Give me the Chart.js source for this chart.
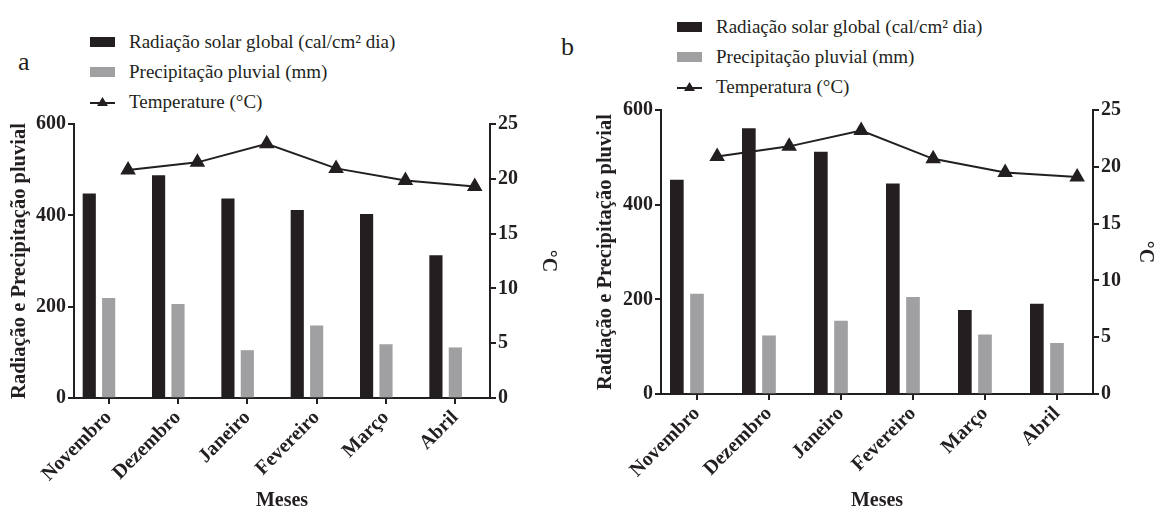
<!DOCTYPE html>
<html>
<head>
<meta charset="utf-8">
<script src="https://cdn.jsdelivr.net/npm/chart.js@4.4.1/dist/chart.umd.min.js"></script>
<style>
  body { margin: 0; background: #fff; width: 1157px; height: 513px; position: relative; overflow: hidden;
         font-family: "Liberation Serif", "Times New Roman", serif; }
  .panel { position: absolute; }
  .tag { position: absolute; font-size: 26px; line-height: 30px; color: #231f20; }
  .legend { position: absolute; }
  .legend .row { display: flex; align-items: center; height: 30px; font-size: 19px; color: #231f20; }
  .legend .sw { width: 25px; height: 10px; margin-right: 14px; }
  .legend svg { margin-right: 14px; }
</style>
</head>
<body>

<div class="tag" style="left:18px; top:47px;">a</div>
<div class="tag" style="left:561px; top:32px;">b</div>
<div class="legend" id="legendA" style="left:90px; top:27px;"></div>
<div class="legend" id="legendB" style="left:677px; top:12px;"></div>

<div class="panel" style="left:0px; top:100px;"><canvas id="chartA" width="575" height="413"></canvas></div>
<div class="panel" style="left:580px; top:90px;"><canvas id="chartB" width="577" height="423"></canvas></div>

<script>
const months = ['Novembro', 'Dezembro', 'Janeiro', 'Fevereiro', 'Março', 'Abril'];

// panel a
const radiationA = [447, 487, 436, 411, 402, 312];
const rainA = [218, 205, 104, 158, 117, 110];
const tempA = [20.8, 21.5, 23.2, 20.95, 19.85, 19.3];

// panel b
const radiationB = [452, 561, 511, 444, 177, 190];
const rainB = [211, 123, 154, 204, 125, 107];
const tempB = [20.9, 21.8, 23.2, 20.7, 19.5, 19.1];

const labelRad = 'Radiação solar global (cal/cm² dia)';
const labelRain = 'Precipitação pluvial (mm)';
const labelTempA = 'Temperature (°C)';
const labelTempB = 'Temperatura (°C)';

const black = '#231f20';
const grey = '#a0a0a3';
const FONT = '"Liberation Serif", "Times New Roman", serif';
const slot = 0.28;   // black bars sit left of the month centre, triangles right of it

function axisGrid() {
  return { drawOnChartArea: false, drawTicks: true, tickLength: 6, color: black, lineWidth: 2 };
}

function hiddenX() {
  return { type: 'linear', display: false, offset: false, min: -0.5, max: months.length - 0.5 };
}

function makeChart(id, rad, rain, temp, tempLabel, box) {
  const ctx = document.getElementById(id).getContext('2d');
  const bold = { family: FONT, size: 20, weight: 'bold' };

  return new Chart(ctx, {
    data: {
      labels: months,
      datasets: [
        {
          type: 'line', label: tempLabel, data: temp.map((t, i) => ({ x: i + slot, y: t })),
          xAxisID: 'xg', yAxisID: 'y2', order: 0,
          borderColor: black, borderWidth: 2, pointStyle: 'triangle', pointRadius: 7,
          pointBackgroundColor: black, pointBorderColor: black, tension: 0
        },
        { type: 'bar', label: labelRad, data: rad.map((v, i) => ({ x: i - slot, y: v })),
          xAxisID: 'xb', yAxisID: 'y', backgroundColor: black, order: 1,
          grouped: false, barThickness: box.bar },
        { type: 'bar', label: labelRain, data: rain.map((v, i) => ({ x: i, y: v })),
          xAxisID: 'xg', yAxisID: 'y', backgroundColor: grey, order: 1,
          grouped: false, barThickness: box.bar }
      ]
    },
    options: {
      responsive: false,
      animation: false,
      layout: { padding: { top: box.top, left: 0, right: 0, bottom: 0 } },
      plugins: { legend: { display: false }, tooltip: { enabled: false } },
      scales: {
        x: {
          type: 'category',
          offset: true,
          grid: Object.assign(axisGrid(), { offset: false }),
          border: { color: black, width: 2 },
          ticks: { color: black, font: bold, maxRotation: 45, minRotation: 45, padding: 2 },
          title: { display: true, text: 'Meses', color: black, font: bold, padding: { top: 0, bottom: 0 } },
          afterFit: s => { s.height = box.xHeight; }
        },
        xb: hiddenX(),
        xg: hiddenX(),
        y: {
          min: 0, max: 600,
          grid: axisGrid(),
          border: { color: black, width: 2 },
          ticks: { stepSize: 200, color: black, font: bold, padding: 2 },
          title: { display: true, text: 'Radiação e Precipitação pluvial', color: black,
                   font: { family: FONT, size: 20.5, weight: 'bold' },
                   padding: { top: box.yTitle, bottom: 0 } },
          afterFit: s => { s.width = box.yWidth; }
        },
        y2: {
          position: 'right', min: 0, max: 25,
          grid: axisGrid(),
          border: { color: black, width: 2 },
          ticks: { stepSize: 5, color: black, font: bold, padding: 2 },
          title: { display: true, text: '°C', color: black, font: bold,
                   padding: { top: box.y2Title, bottom: 0 } },
          afterFit: s => { s.width = box.y2Width; }
        }
      }
    }
  });
}

function buildLegend(el, chart) {
  chart.data.datasets.forEach(ds => {
    const row = document.createElement('div');
    row.className = 'row';
    if (ds.type === 'bar') {
      row.innerHTML = '<div class="sw" style="background:' + ds.backgroundColor + '"></div>';
    } else {
      row.innerHTML = '<svg width="25" height="12"><line x1="0" y1="7" x2="25" y2="7" stroke="' + black +
        '" stroke-width="2"/><polygon points="12.5,1 18,10 7,10" fill="' + black + '"/></svg>';
    }
    const span = document.createElement('span');
    span.textContent = ds.label;
    row.appendChild(span);
    el.appendChild(row);
  });
  // bars first, then the line, as in the figure
  el.appendChild(el.firstChild);
}

const chartA = makeChart('chartA', radiationA, rainA, tempA, labelTempA,
  { top: 24, yWidth: 74, y2Width: 85, xHeight: 115, yTitle: 7, y2Title: 15, bar: 12.5 });
const chartB = makeChart('chartB', radiationB, rainB, tempB, labelTempB,
  { top: 20, yWidth: 81, y2Width: 64, xHeight: 119, yTitle: 13, y2Title: 0, bar: 13 });

buildLegend(document.getElementById('legendA'), chartA);
buildLegend(document.getElementById('legendB'), chartB);
</script>
</body>
</html>
